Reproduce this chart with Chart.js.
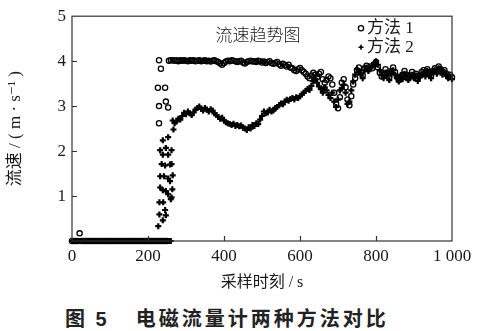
<!DOCTYPE html>
<html>
<head>
<meta charset="utf-8">
<script src="https://cdn.jsdelivr.net/npm/chart.js@4.4.1/dist/chart.umd.min.js"></script>
<style>
  body { margin: 0; background: #fff; }
  #wrap { position: relative; width: 477px; height: 331px; }
  #box { position: absolute; left: 0; top: 0; width: 477px; height: 300px; }
  #caption {
    position: absolute; left: 65px; top: 303px; white-space: nowrap;
    font: bold 20px "Noto Sans CJK SC", sans-serif; letter-spacing: 3px; color: #222;
  }
  #caption .num { font-family: "Liberation Sans", sans-serif; }
</style>
</head>
<body>
<div id="wrap">
  <div id="box"><canvas id="flow-canvas"></canvas></div>
  <div id="caption">图 <span class="num">5</span><span style="margin-left:26px">电磁流量计两种方法对比</span></div>
</div>
<script>
// sampling interval of the main series, seconds
const sampleStep = 5;

// 方法1, t = 0 .. 1000 s every 5 s
const method1Flow = [
  0, 0, 0, 0, 0.17, 0, 0, 0, 0, 0,
  0, 0, 0, 0, 0, 0, 0, 0, 0, 0,
  0, 0, 0, 0, 0, 0, 0, 0, 0, 0,
  0, 0, 0, 0, 0, 0, 0, 0, 0, 0,
  0, 0, 0, 0, 0, 0, 0, 0, 0, 0,
  0, 4.01, 4.02,
  4.02, 4.01, 4.02, 4.00, 4.02, 4.01, 4.02, 4.01, 4.00, 4.02,
  4.01, 4.02, 4.00, 4.01, 4.02, 4.00, 4.01, 4.02, 4.00, 4.01,
  3.99, 4.01, 4.02, 4.00, 3.98, 3.95, 3.92, 3.96, 3.99, 4.01,
  4.00, 4.02, 4.01, 4.00, 3.98, 4.00, 4.01, 3.97, 3.95, 3.98,
  4.00, 4.01, 3.99, 4.00, 3.98, 4.01, 4.00, 3.97, 3.99, 3.96,
  3.98, 4.00, 3.96, 3.94, 3.96, 3.98, 3.93, 3.90, 3.94, 3.91,
  3.88, 3.92, 3.86, 3.84, 3.80, 3.78, 3.82, 3.85, 3.80, 3.76,
  3.72, 3.66, 3.62, 3.68, 3.74, 3.70, 3.64, 3.72, 3.76, 3.60,
  3.52, 3.58, 3.66, 3.62, 3.48, 3.30, 3.05, 2.95, 3.20, 3.52,
  3.60, 3.42, 3.15, 3.02, 3.22, 3.48, 3.62, 3.80, 3.86, 3.76,
  3.68, 3.84, 3.90, 3.82, 3.88, 3.84, 3.92, 3.98, 3.86, 3.74,
  3.66, 3.70, 3.82, 3.74, 3.64, 3.78, 3.86, 3.76, 3.66, 3.58,
  3.62, 3.70, 3.78, 3.70, 3.62, 3.68, 3.76, 3.66, 3.72, 3.62,
  3.68, 3.76, 3.80, 3.72, 3.82, 3.76, 3.68, 3.78, 3.84, 3.78,
  3.88, 3.82, 3.76, 3.80, 3.72, 3.66, 3.70, 3.64
];

// 方法2, t = 0 .. 1000 s every 5 s
const method2Flow = [
  0, 0, 0, 0, 0, 0, 0, 0, 0, 0,
  0, 0, 0, 0, 0, 0, 0, 0, 0, 0,
  0, 0, 0, 0, 0, 0, 0, 0, 0, 0,
  0, 0, 0, 0, 0, 0, 0, 0, 0, 0,
  0, 0, 0, 0, 0, 0, 0, 0, 0, 0,
  0, 0, 0,
  2.68, 2.62, 2.66, 2.72, 2.70, 2.78, 2.85, 2.82, 2.88, 2.84,
  2.80, 2.86, 2.92, 2.96, 2.99, 2.94, 2.90, 2.96, 2.92, 2.88,
  2.93, 2.90, 2.84, 2.80, 2.76, 2.72, 2.74, 2.68, 2.64, 2.62,
  2.60, 2.58, 2.61, 2.56, 2.58, 2.55, 2.57, 2.52, 2.50, 2.47,
  2.53, 2.50, 2.58, 2.56, 2.62, 2.60, 2.70, 2.78, 2.88, 2.84,
  2.86, 2.92, 2.88, 2.90, 2.96, 2.98, 3.02, 3.06, 3.04, 3.10,
  3.14, 3.12, 3.16, 3.18, 3.15, 3.20, 3.18, 3.22, 3.26, 3.30,
  3.34, 3.38, 3.36, 3.45, 3.55, 3.60, 3.52, 3.44, 3.38, 3.30,
  3.42, 3.35, 3.25, 3.18, 3.30, 3.10, 2.98, 3.15, 3.35, 3.40,
  3.48, 3.30, 3.05, 3.10, 3.35, 3.55, 3.70, 3.82, 3.78, 3.70,
  3.62, 3.80, 3.86, 3.78, 3.84, 3.90, 3.96, 4.00, 3.92, 3.80,
  3.70, 3.62, 3.75, 3.68, 3.58, 3.72, 3.80, 3.70, 3.62, 3.55,
  3.68, 3.60, 3.72, 3.66, 3.58, 3.64, 3.70, 3.62, 3.68, 3.56,
  3.64, 3.70, 3.74, 3.66, 3.78, 3.70, 3.62, 3.74, 3.80, 3.72,
  3.84, 3.78, 3.70, 3.76, 3.68, 3.62, 3.66, 3.60
];

// start-up jump, extra samples
const method1BurstTimes = [229, 234, 226, 245, 247, 229, 253, 229];
const method1BurstFlow  = [4.02, 3.83, 3.41, 3.41, 3.10, 3.00, 2.97, 2.62];

const method2BurstTimes = [227, 239, 247, 230, 245, 230, 240, 260, 262, 232, 247, 239, 264, 253, 232, 242,
                           253, 258, 265, 236, 245, 258, 262, 239, 253, 232, 247, 262, 239, 253, 267];
const method2BurstFlow  = [0.33, 0.46, 0.57, 0.59, 0.69, 0.86, 0.86, 0.93, 0.97, 1.19, 1.11, 1.13, 1.15, 1.04, 1.44, 1.44,
                           1.39, 1.33, 1.46, 1.71, 1.68, 1.70, 1.71, 1.92, 1.92, 2.02, 2.07, 2.02, 2.24, 2.31, 2.48];

const seriesNames = ['方法 1', '方法 2'];
const xTickLabels = { 0: '0', 200: '200', 400: '400', 600: '600', 800: '800', 1000: '1 000' };
const chartTitle = '流速趋势图';
const xTitle = '采样时刻 / s';
const yTitle = '流速 / ( m · s⁻¹ )';

const ink = '#1a1a1a';
const tickFont = { family: '"Liberation Serif", "DejaVu Serif", serif', size: 17 };
const cjkFont = '"Liberation Serif", "Noto Sans CJK SC", "DejaVu Serif", serif';

function toPoints(values) {
    return values.map((v, i) => ({ x: i * sampleStep, y: v }));
}
function pairPoints(times, values) {
    return times.map((t, i) => ({ x: t, y: values[i] }));
}

const circleStyle = { pointStyle: 'circle', pointRadius: 2.6, borderWidth: 1.3 };
const crossStyle = { pointStyle: 'cross', pointRadius: 3, borderWidth: 2.2 };

// frame, inward ticks, inner title and legend
const framePlugin = {
    id: 'frame',
    afterDatasetsDraw(chart) {
        const { ctx, chartArea: a, scales: { x, y } } = chart;
        ctx.save();
        ctx.strokeStyle = '#333';
        ctx.lineWidth = 1.2;
        ctx.strokeRect(a.left, a.top, a.right - a.left, a.bottom - a.top);
        ctx.beginPath();
        x.ticks.forEach(t => {
            if (t.value <= x.min || t.value >= x.max) return;
            const px = Math.round(x.getPixelForValue(t.value)) + 0.5;
            ctx.moveTo(px, a.bottom);
            ctx.lineTo(px, a.bottom - 5);
        });
        y.ticks.forEach(t => {
            if (t.value <= y.min || t.value >= y.max) return;
            const py = Math.round(y.getPixelForValue(t.value)) + 0.5;
            ctx.moveTo(a.left, py);
            ctx.lineTo(a.left + 5, py);
        });
        ctx.stroke();

        ctx.fillStyle = ink;
        ctx.textBaseline = 'middle';
        ctx.textAlign = 'center';
        ctx.font = '300 17px "Noto Sans CJK SC"';
        ctx.fillText(chartTitle, a.left + 186, a.top + 18);

        ctx.textAlign = 'left';
        ctx.font = '17px ' + cjkFont;
        const styles = [circleStyle, { pointStyle: 'cross', pointRadius: 2.5, borderWidth: 1.6 }];
        seriesNames.forEach((name, i) => {
            const ly = a.top + 12 + i * 19;
            const s = styles[i];
            ctx.strokeStyle = '#000';
            ctx.fillStyle = 'rgba(0,0,0,0)';
            ctx.lineWidth = s.borderWidth;
            Chart.helpers.drawPoint(ctx, { pointStyle: s.pointStyle, radius: s.pointRadius, borderWidth: s.borderWidth, rotation: 0 }, a.left + 289, ly);
            ctx.fillStyle = ink;
            ctx.fillText(name, a.left + 295, ly);
        });
        ctx.restore();
    }
};

const ctx = document.getElementById('flow-canvas').getContext('2d');
new Chart(ctx, {
    type: 'scatter',
    data: {
        datasets: [
            {
                label: seriesNames[0],
                data: toPoints(method1Flow).concat(pairPoints(method1BurstTimes, method1BurstFlow)),
                borderColor: '#000',
                backgroundColor: 'rgba(0,0,0,0)',
                pointStyle: circleStyle.pointStyle,
                pointRadius: circleStyle.pointRadius,
                pointBorderWidth: circleStyle.borderWidth,
                showLine: false,
                clip: false
            },
            {
                label: seriesNames[1],
                data: toPoints(method2Flow).concat(pairPoints(method2BurstTimes, method2BurstFlow)),
                borderColor: '#000',
                backgroundColor: '#000',
                pointStyle: crossStyle.pointStyle,
                pointRadius: crossStyle.pointRadius,
                pointBorderWidth: crossStyle.borderWidth,
                showLine: false,
                clip: false
            }
        ]
    },
    options: {
        responsive: true,
        maintainAspectRatio: false,
        animation: false,
        devicePixelRatio: 1,
        layout: { padding: { left: 0, right: 25, top: 12, bottom: 0 } },
        plugins: {
            legend: { display: false },
            tooltip: { enabled: false }
        },
        scales: {
            x: {
                type: 'linear',
                min: 0,
                max: 1000,
                afterFit: s => { s.height = 59; },
                grid: { display: false, drawTicks: false },
                border: { display: false },
                ticks: {
                    stepSize: 200,
                    padding: 5,
                    maxRotation: 0,
                    color: ink,
                    font: tickFont,
                    callback: v => xTickLabels[v] ?? ''
                },
                title: {
                    display: true,
                    text: xTitle,
                    color: ink,
                    font: { family: cjkFont, size: 16 },
                    padding: { top: 0, bottom: 8 }
                }
            },
            y: {
                min: 0,
                max: 5,
                afterFit: s => { s.width = 72; },
                grid: { display: false, drawTicks: false },
                border: { display: false },
                ticks: {
                    stepSize: 1,
                    padding: 6,
                    color: ink,
                    font: tickFont,
                    callback: v => (v === 0 ? '' : String(v))
                },
                title: {
                    display: true,
                    text: yTitle,
                    color: ink,
                    font: { family: cjkFont, size: 17 },
                    padding: { top: 5, bottom: 0 }
                }
            }
        }
    },
    plugins: [framePlugin]
});
</script>
</body>
</html>
